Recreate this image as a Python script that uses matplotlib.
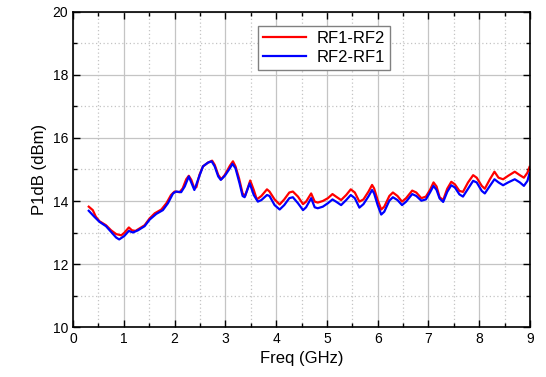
import matplotlib
matplotlib.use("Agg")
import matplotlib.pyplot as plt
from matplotlib.ticker import MultipleLocator

plt.rcParams['font.family'] = ['Liberation Sans', 'DejaVu Sans']

# RF1-RF2 (red), values
freq_rf12 = [0.31, 0.39, 0.45, 0.52, 0.65, 0.75, 0.85, 0.95, 1.01, 1.10, 1.16, 1.23,
             1.34, 1.41, 1.51, 1.61, 1.74, 1.84, 1.93, 2.00, 2.10, 2.16, 2.23, 2.28,
             2.33, 2.39, 2.43, 2.49, 2.56, 2.66, 2.74, 2.79, 2.86, 2.92, 2.99, 3.09,
             3.15, 3.20, 3.27, 3.34, 3.39, 3.49, 3.56, 3.62, 3.71, 3.82, 3.87, 3.97,
             4.07, 4.16, 4.26, 4.33, 4.43, 4.53, 4.59, 4.69, 4.76, 4.82, 4.92, 5.02,
             5.11, 5.18, 5.28, 5.38, 5.47, 5.55, 5.64, 5.72, 5.82, 5.89, 5.93, 6.00,
             6.07, 6.13, 6.23, 6.30, 6.39, 6.48, 6.56, 6.68, 6.76, 6.86, 6.95, 7.03,
             7.10, 7.16, 7.22, 7.29, 7.37, 7.45, 7.52, 7.61, 7.68, 7.78, 7.88, 7.95,
             8.05, 8.11, 8.21, 8.30, 8.38, 8.47, 8.57, 8.70, 8.80, 8.88, 8.95, 8.99]
p1db_rf12 = [13.82, 13.71, 13.50, 13.36, 13.23, 13.07, 12.95, 12.91, 12.99, 13.16, 13.07, 13.05,
             13.16, 13.23, 13.45, 13.61, 13.73, 13.93, 14.19, 14.30, 14.28, 14.40, 14.69, 14.80,
             14.67, 14.40, 14.44, 14.83, 15.10, 15.22, 15.28, 15.15, 14.83, 14.69, 14.83, 15.12,
             15.26, 15.10, 14.72, 14.24, 14.16, 14.65, 14.35, 14.05, 14.16, 14.37, 14.30, 14.05,
             13.89, 14.05, 14.27, 14.30, 14.14, 13.90, 13.98, 14.24, 13.98, 13.95, 14.00, 14.09,
             14.22, 14.14, 14.03, 14.19, 14.37, 14.27, 13.98, 14.05, 14.30, 14.51, 14.40, 14.03,
             13.73, 13.82, 14.16, 14.27, 14.16, 13.98, 14.09, 14.33, 14.27, 14.09, 14.14, 14.35,
             14.59, 14.46, 14.12, 14.03, 14.39, 14.61, 14.53, 14.32, 14.29, 14.59, 14.82, 14.74,
             14.48, 14.39, 14.69, 14.93, 14.74, 14.69, 14.80, 14.93, 14.82, 14.74, 14.90, 15.08]

# RF2-RF1 (blue)
freq_rf21 = [0.31, 0.42, 0.52, 0.65, 0.75, 0.85, 0.91, 1.01, 1.10, 1.18, 1.28, 1.41,
             1.51, 1.64, 1.77, 1.87, 1.97, 2.03, 2.13, 2.20, 2.28, 2.39, 2.49, 2.56,
             2.66, 2.73, 2.79, 2.86, 2.91, 2.99, 3.09, 3.14, 3.20, 3.28, 3.34, 3.38,
             3.48, 3.56, 3.64, 3.71, 3.82, 3.87, 3.97, 4.07, 4.16, 4.26, 4.33, 4.43,
             4.53, 4.59, 4.69, 4.76, 4.82, 4.92, 5.02, 5.11, 5.18, 5.28, 5.38, 5.47,
             5.55, 5.64, 5.72, 5.82, 5.89, 5.93, 6.00, 6.07, 6.13, 6.23, 6.30, 6.39,
             6.48, 6.56, 6.68, 6.76, 6.86, 6.95, 7.03, 7.10, 7.16, 7.22, 7.29, 7.37,
             7.45, 7.52, 7.61, 7.68, 7.78, 7.88, 7.95, 8.05, 8.11, 8.21, 8.30, 8.38,
             8.47, 8.57, 8.70, 8.80, 8.88, 8.95, 8.99]
p1db_rf21 = [13.69, 13.50, 13.34, 13.20, 13.02, 12.84, 12.78, 12.89, 13.05, 13.00, 13.07, 13.20,
             13.41, 13.59, 13.71, 13.93, 14.24, 14.30, 14.28, 14.46, 14.78, 14.35, 14.80, 15.10,
             15.22, 15.26, 15.10, 14.78, 14.67, 14.80, 15.04, 15.18, 15.04, 14.56, 14.16, 14.12,
             14.56, 14.19, 13.98, 14.03, 14.19, 14.16, 13.87, 13.73, 13.87, 14.09, 14.12, 13.93,
             13.71, 13.80, 14.09, 13.80, 13.77, 13.82, 13.93, 14.05, 13.98, 13.87, 14.03, 14.19,
             14.09, 13.79, 13.90, 14.15, 14.35, 14.24, 13.87, 13.57, 13.66, 14.01, 14.12, 14.03,
             13.87, 13.98, 14.22, 14.16, 14.01, 14.05, 14.27, 14.48, 14.35, 14.08, 13.97, 14.29,
             14.50, 14.43, 14.21, 14.14, 14.39, 14.64, 14.59, 14.32, 14.24, 14.48, 14.69, 14.59,
             14.50, 14.59, 14.69, 14.59, 14.48, 14.64, 14.88]

fig = plt.figure(figsize=(5.46, 3.77), dpi=100)
ax = fig.add_axes([0.1337, 0.1326, 0.8370, 0.8356])

ax.plot(freq_rf12, p1db_rf12, color='#ff0000', lw=1.6, solid_joinstyle='round',
        label='RF1-RF2')
ax.plot(freq_rf21, p1db_rf21, color='#0000ff', lw=1.6, solid_joinstyle='round',
        label='RF2-RF1')

ax.set_xlim(0, 9)
ax.set_ylim(10, 20)
ax.xaxis.set_major_locator(MultipleLocator(1))
ax.xaxis.set_minor_locator(MultipleLocator(0.5))
ax.yaxis.set_major_locator(MultipleLocator(2))
ax.yaxis.set_minor_locator(MultipleLocator(1))

ax.grid(which='major', color='#c4c4c4', lw=0.9, ls='-')
ax.grid(which='minor', color='#c4c4c4', lw=0.9, ls=(0, (1, 2)))
ax.set_axisbelow(True)

ax.tick_params(which='both', direction='in', top=True, right=True, labelsize=10)
ax.tick_params(which='major', length=5, width=1)
ax.tick_params(which='minor', length=3, width=1)
for s in ax.spines.values():
    s.set_linewidth(1.2)

ax.set_xlabel('Freq (GHz)', fontsize=12)
ax.set_ylabel('P1dB (dBm)', fontsize=12)

leg = ax.legend(loc='upper left', bbox_to_anchor=(0.405, 0.955), borderaxespad=0,
                fontsize=12, fancybox=False, edgecolor='#808080', framealpha=1,
                handlelength=2.6, labelspacing=0.25, borderpad=0.3, handletextpad=0.6)
leg.get_frame().set_linewidth(1.0)

fig.savefig('out.png', dpi=100)
